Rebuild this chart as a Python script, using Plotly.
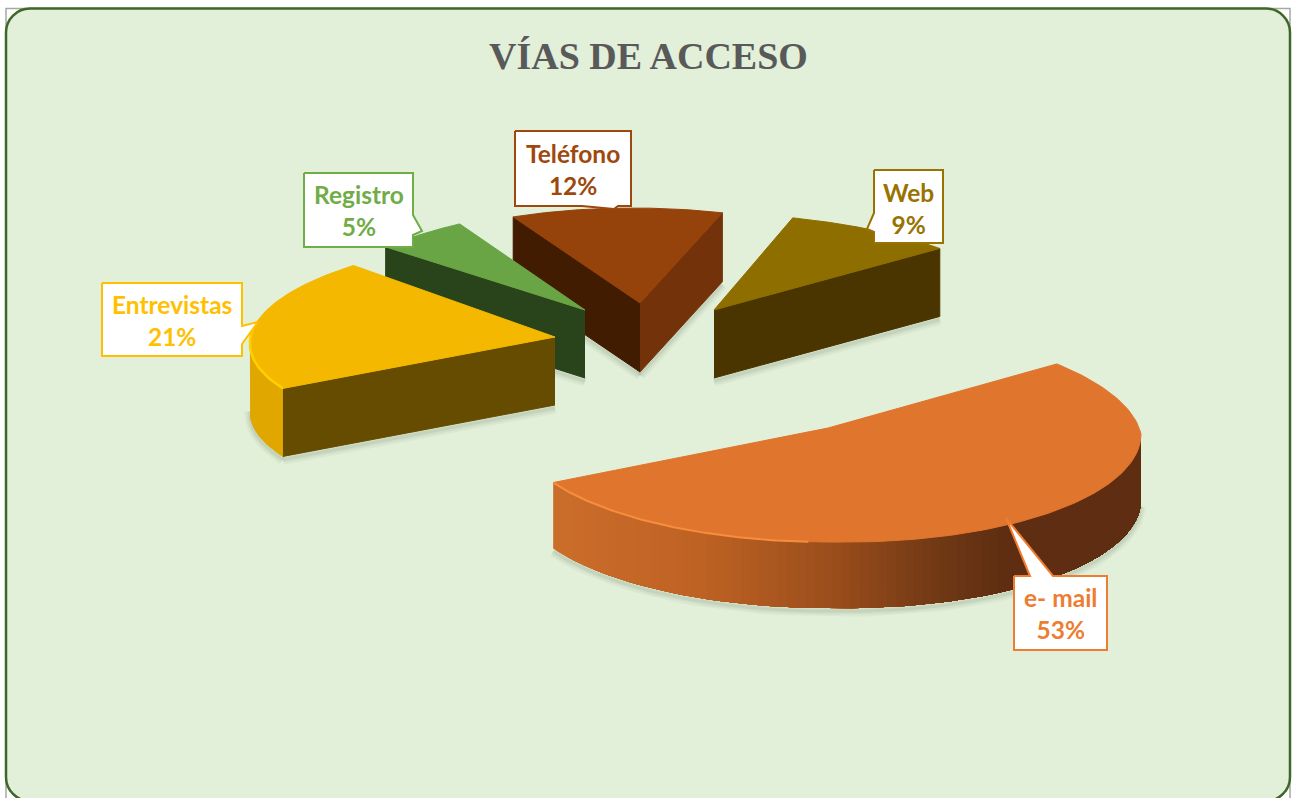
import numpy as np
import plotly.graph_objects as go

# ---- data ----
categories = ["e- mail", "Entrevistas", "Registro", "Teléfono", "Web"]
percentages = [53, 21, 5, 12, 9]
title_text = "VÍAS DE ACCESO"

# ---- style / placement of the tilted, exploded pie (pixels of the page) ----
START_DEG = -39.4
GEOM = {  # apex x,y ; rx, x-shear ; ry, y-shear ; wall height ; far-side shrink ; right-side droop
    "e- mail":     (828, 428, 313, 0, 114, 0, 66, .085, 6),
    "Entrevistas": (555, 337, 305, -9, 101, -3.5, 68, 0, 0),
    "Registro":    (585, 310, 288, 4, 103.7, -18.7, 68, 0, 0),
    "Teléfono":    (640, 303, 285, 7, 95, 0, 69, 0, 0),
    "Web":         (714, 310, 307, 18, 97, 0, 68, 0, 0),
}
TOP = {"e- mail": "#E0752D", "Entrevistas": "#F4B800", "Registro": "#6AA545",
       "Teléfono": "#95420B", "Web": "#8F6E00"}
FACE = {"e- mail": ["#5F2E12", "#5F2E12"], "Entrevistas": ["#664C00", "#664C00"],
        "Registro": ["#29431B", "#29431B"], "Teléfono": ["#421C00", "#74320B"],
        "Web": ["#4A3500", "#4A3500"]}
TEXT = {"e- mail": "#ED7D31", "Entrevistas": "#FFC000", "Registro": "#70AD47",
        "Teléfono": "#9E480E", "Web": "#997300"}
# box x0,y0,x1,y1 and callout tail (base point, tip, base point), text nudge
CALLOUT = {
    "e- mail":     ((1014, 576, 1107, 650), "top", (1030, 1006, 1053), 518, 0),
    "Entrevistas": ((102, 283, 242, 356), "right", (326, 258, 344), 322, 1),
    "Registro":    ((304, 173, 413, 247), "right", (215, 422, 235), 231, 0),
    "Teléfono":    ((515, 131, 631, 206), "bottom", (582, 614, 618), 209, 1),
    "Web":         ((874, 170, 943, 243), "left", (213, 867, 232), 229, 2),
}
DRAW_ORDER = ["Web", "Teléfono", "Registro", "Entrevistas", "e- mail"]

fig = go.Figure()


def poly(xs, ys, color, line=None, width=1):
    fig.add_trace(go.Scatter(x=list(xs), y=list(ys), mode="lines", fill="toself",
                             fillcolor=color, line=dict(color=line or color, width=width),
                             hoverinfo="skip", showlegend=False))


def stroke(xs, ys, color, width):
    fig.add_trace(go.Scatter(x=list(xs), y=list(ys), mode="lines", hoverinfo="skip",
                             showlegend=False, line=dict(color=color, width=width)))


def rim(name, t):
    ax, ay, rx, sx, ry, cy, _, k, droop = GEOM[name]
    f = 1 + k * np.minimum(np.sin(t), 0)
    return (ax + f * (rx * np.cos(t) + sx * np.sin(t)),
            ay + f * (ry * np.sin(t) + cy * np.cos(t) + droop * np.maximum(np.cos(t), 0)))


def mix(stops, x):
    xs = [s[0] for s in stops]
    return "rgb(%d,%d,%d)" % tuple(np.interp(x, xs, [s[1][i] for s in stops]) for i in range(3))


EMAIL_WALL = [(552, (204, 110, 43)), (700, (190, 98, 36)), (830, (155, 78, 28)),
              (930, (115, 58, 22)), (1000, (95, 46, 18)), (1141, (95, 46, 18))]

# angular spans from the data
cum = np.cumsum([0] + percentages) / sum(percentages) * 2 * np.pi + np.radians(START_DEG)
SPAN = {c: (cum[i], cum[i + 1]) for i, c in enumerate(categories)}
SHADOW = [(11, "rgba(90,110,80,.05)"), (7, "rgba(90,110,80,.07)"), (3, "rgba(90,110,80,.10)")]

for name in DRAW_ORDER:
    t0, t1 = SPAN[name]
    ax, ay = GEOM[name][:2]
    d = GEOM[name][6]
    ts = np.linspace(t0, t1, 160)
    rx_, ry_ = rim(name, ts)
    mx, my = rim(name, (t0 + t1) / 2)
    faces = []
    for i, t in enumerate((t0, t1)):
        bx, by = rim(name, t)
        if abs(bx - ax) > 1 and my < ay + (by - ay) * (mx - ax) / (bx - ax):
            faces.append((i, bx, by))

    # soft contact shadow under the lower edges
    for w, col in SHADOW:
        for i, bx, by in faces:
            stroke([ax, bx], [ay + d + 3, by + d + 3], col, w)
        if name in ("e- mail", "Entrevistas"):
            st = np.linspace(0.03 if name == "e- mail" else t0, t1 if name == "e- mail" else np.pi, 80)
            sx_, sy_ = rim(name, st)
            stroke(sx_, sy_ + d + 3, col, w)

    # radial faces that look at the viewer
    for i, bx, by in faces:
        poly([ax, bx, bx, ax], [ay, by, by + d, ay + d], FACE[name][i])

    # outer wall
    if name == "e- mail":
        wt = np.linspace(t1, 0.03, 90)          # left to right, each band painted over the last
        for j in range(len(wt) - 1):
            band = wt[j:]
            bx_, by_ = rim(name, band)
            poly(list(bx_) + list(bx_[::-1]), list(by_) + list(by_[::-1] + d),
                 mix(EMAIL_WALL, bx_[0] + 1), width=0)
    elif name == "Entrevistas":
        wt = np.linspace(t0, np.pi + 0.03, 50)
        xa, ya = rim(name, wt)
        poly(list(xa) + list(xa[::-1]), list(ya) + list(ya[::-1] + d), "#E0A700")

    # top face
    poly([ax] + list(rx_) + [ax], [ay] + list(ry_) + [ay], TOP[name])

    # bevel highlight on the lit rims
    if name == "e- mail":
        hx, hy = rim(name, np.linspace(t1, np.pi * 0.52, 70))
        stroke(hx, hy, "#F68E3E", 2)
    elif name == "Entrevistas":
        hx, hy = rim(name, np.linspace(t0, np.pi * 1.06, 30))
        stroke(hx, hy, "#FFD000", 2.5)

# callouts (box + tail as one outline) and their labels
annotations = []
for name, pct in zip(categories, percentages):
    (x0, y0, x1, y1), side, tail, extra, nudge = CALLOUT[name]
    if side == "top":
        path = [(x0, y0), (tail[0], y0), (tail[1], extra), (tail[2], y0), (x1, y0), (x1, y1), (x0, y1)]
    elif side == "right":
        path = [(x0, y0), (x1, y0), (x1, tail[0]), (tail[1], extra), (x1, tail[2]), (x1, y1), (x0, y1)]
    elif side == "bottom":
        path = [(x0, y0), (x1, y0), (x1, y1), (tail[2], y1), (tail[1], extra), (tail[0], y1), (x0, y1)]
    else:
        path = [(x0, y0), (x1, y0), (x1, y1), (x0, y1), (x0, tail[2]), (tail[1], extra), (x0, tail[0])]
    path.append(path[0])
    poly([p[0] for p in path], [p[1] for p in path], "#FFFFFF", line=TEXT[name], width=2)
    annotations.append(dict(x=(x0 + x1) / 2, y=(y0 + y1) / 2 + nudge, xref="x", yref="y", showarrow=False,
                            text=f"<b>{name}</b><br><b>{pct}%</b>",
                            font=dict(family="Lato, Open Sans, sans-serif", size=24.5, color=TEXT[name]),
                            align="center", xanchor="center", yanchor="middle"))
annotations.append(dict(x=648, y=56, xref="x", yref="y", showarrow=False, text=f"<b>{title_text}</b>",
                        font=dict(family="Liberation Serif, serif", size=38, color="#595959"),
                        xanchor="center", yanchor="middle"))

# rounded panel
L, T, R, B, r = 6, 8.5, 1290, 801, 24
c = r * 0.448
panel = (f"M {L+r} {T} L {R-r} {T} C {R-c} {T} {R} {T+c} {R} {T+r} L {R} {B-r} "
         f"C {R} {B-c} {R-c} {B} {R-r} {B} L {L+r} {B} C {L+c} {B} {L} {B-c} {L} {B-r} "
         f"L {L} {T+r} C {L} {T+c} {L+c} {T} {L+r} {T} Z")
shapes = [
    dict(type="rect", x0=L, y0=T, x1=R, y1=B, xref="x", yref="y", layer="below",
         fillcolor="#FFFFFF", line=dict(color="#A3AB9F", width=1.5)),
    dict(type="path", path=panel, xref="x", yref="y", layer="below",
         fillcolor="#E2EFD9", line=dict(color="#3F672B", width=2.5)),
]

fig.update_layout(
    width=1293, height=798, margin=dict(l=0, r=0, t=0, b=0),
    paper_bgcolor="#FFFFFF", plot_bgcolor="rgba(0,0,0,0)",
    showlegend=False, shapes=shapes, annotations=annotations,
    xaxis=dict(range=[0, 1293], visible=False, fixedrange=True),
    yaxis=dict(range=[798, 0], visible=False, fixedrange=True),
)

fig.write_html("out.html", config=dict(displayModeBar=False),
               post_script="document.body.style.margin='0';document.body.style.overflow='hidden';")
